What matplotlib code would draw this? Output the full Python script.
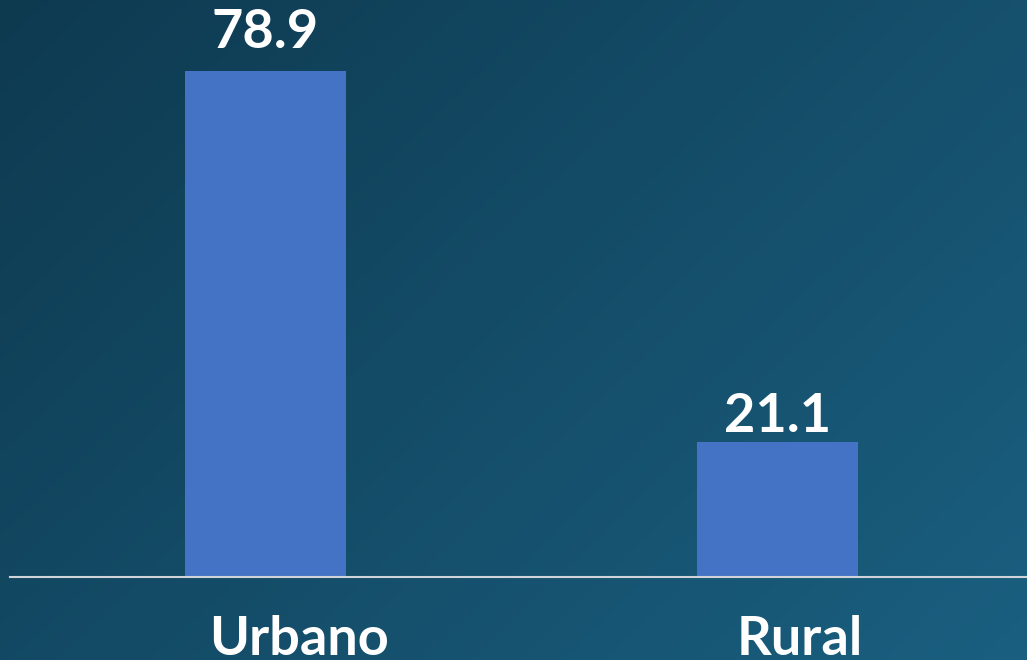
import numpy as np
import matplotlib.pyplot as plt
from matplotlib.colors import LinearSegmentedColormap

categories = ['Urbano', 'Rural']
values = [78.9, 21.1]

plt.rcParams['font.family'] = ['Lato', 'DejaVu Sans']

fig = plt.figure(figsize=(10.27, 6.6), dpi=100)

# diagonal gradient background, dark top-left to lighter bottom-right
bg = fig.add_axes([0, 0, 1, 1])
gx, gy = np.meshgrid(np.linspace(0, 1, 300), np.linspace(0, 1, 200))
grad = 0.6 * gx + 0.4 * gy
cmap = LinearSegmentedColormap.from_list('bg', ['#0e3a50', '#1a5f80'])
bg.imshow(grad, cmap=cmap, aspect='auto', extent=[0, 1, 0, 1], origin='upper')
bg.axis('off')

ax = fig.add_axes([10 / 1027, 83 / 660, 1017 / 1027, 577 / 660])
ax.patch.set_alpha(0)
x = np.arange(len(categories))
bars = ax.bar(x, values, width=0.314, color='#4472c4', zorder=2)
ax.set_xlim(-0.499, 1.487)
ax.set_ylim(0, 89.9)

for s in ['top', 'right', 'left']:
    ax.spines[s].set_visible(False)
ax.spines['bottom'].set_color('#d0d4d8')
ax.spines['bottom'].set_linewidth(1.5)
ax.set_yticks([])
ax.set_xticks([])

# value labels (offsets in px)
offsets = [14, 1]
for b, v, off in zip(bars, values, offsets):
    ax.annotate(f'{v:.1f}', (b.get_x() + b.get_width() / 2, v),
                xytext=(0, off * 0.72), textcoords='offset points',
                ha='center', va='bottom', color='white',
                fontsize=39, fontweight='bold')

# category labels (horizontal shift in px)
shifts = [34, 22]
for xi, c, sh in zip(x, categories, shifts):
    ax.annotate(c, (xi, 0), xytext=(sh * 0.72, -38 * 0.72), textcoords='offset points',
                ha='center', va='top', color='white',
                fontsize=39, fontweight='bold', annotation_clip=False)

fig.savefig('out.png', dpi=100)
